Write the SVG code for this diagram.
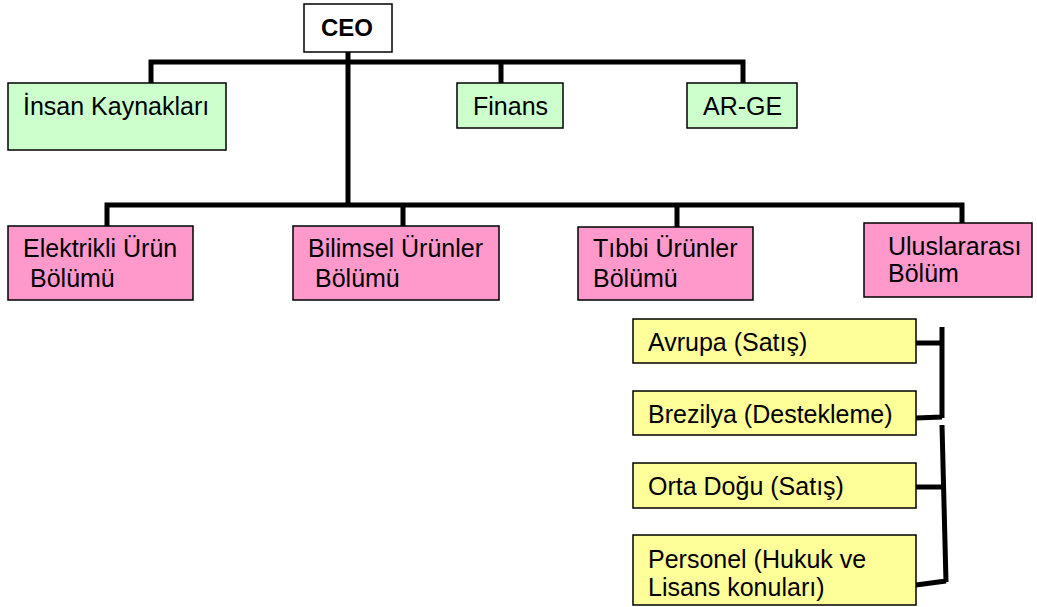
<svg xmlns="http://www.w3.org/2000/svg" width="1037" height="607" viewBox="0 0 1037 607">
<style>
.box{stroke:#000;stroke-width:1.5}
.g{fill:#CCFFCC}.p{fill:#FF99CC}.y{fill:#FFFF99}.w{fill:#fff}
text{font-family:"Liberation Sans",Arial,sans-serif;font-size:25px;fill:#000}
.b{font-weight:bold;font-size:24px}
.c{stroke:#000;stroke-width:5;fill:none}
</style>
<g id="connectors">
<path class="c" d="M151 84V62H743V84M501 62V84M348 52V205M107 227V205H962V224M403 205V227M677 205V228"/>
<path class="c" d="M942 327V418M942 425L946 582M916 343H942M916 418L942 417M916 487H943M916 585L946 581"/>
</g>
<g id="ceo"><rect class="box w" x="304" y="4" width="88" height="48"/><text class="b" x="347" y="36" text-anchor="middle">CEO</text></g>
<g id="ik"><rect class="box g" x="8" y="83" width="218" height="67"/><text x="23" y="115">İnsan Kaynakları</text></g>
<g id="finans"><rect class="box g" x="457" y="83" width="106" height="45"/><text x="473" y="115">Finans</text></g>
<g id="arge"><rect class="box g" x="687" y="83" width="110" height="45"/><text x="703" y="115">AR-GE</text></g>
<g id="elektrikli"><rect class="box p" x="8" y="226" width="185" height="74"/><text x="23" y="257">Elektrikli Ürün</text><text x="30" y="287">Bölümü</text></g>
<g id="bilimsel"><rect class="box p" x="293" y="226" width="206" height="74"/><text x="308" y="257">Bilimsel Ürünler</text><text x="315" y="287">Bölümü</text></g>
<g id="tibbi"><rect class="box p" x="578" y="227" width="175" height="73"/><text x="593" y="257">Tıbbi Ürünler</text><text x="593" y="287">Bölümü</text></g>
<g id="uluslararasi"><rect class="box p" x="864" y="223" width="168" height="74"/><text x="888" y="255">Uluslararası</text><text x="888" y="282">Bölüm</text></g>
<g id="avrupa"><rect class="box y" x="633" y="319" width="283" height="44"/><text x="648" y="351">Avrupa (Satış)</text></g>
<g id="brezilya"><rect class="box y" x="633" y="391" width="283" height="44"/><text x="648" y="423">Brezilya (Destekleme)</text></g>
<g id="ortadogu"><rect class="box y" x="633" y="463" width="283" height="45"/><text x="648" y="495">Orta Doğu (Satış)</text></g>
<g id="personel"><rect class="box y" x="633" y="535" width="283" height="70"/><text x="648" y="568">Personel (Hukuk ve</text><text x="648" y="596">Lisans konuları)</text></g>
</svg>
